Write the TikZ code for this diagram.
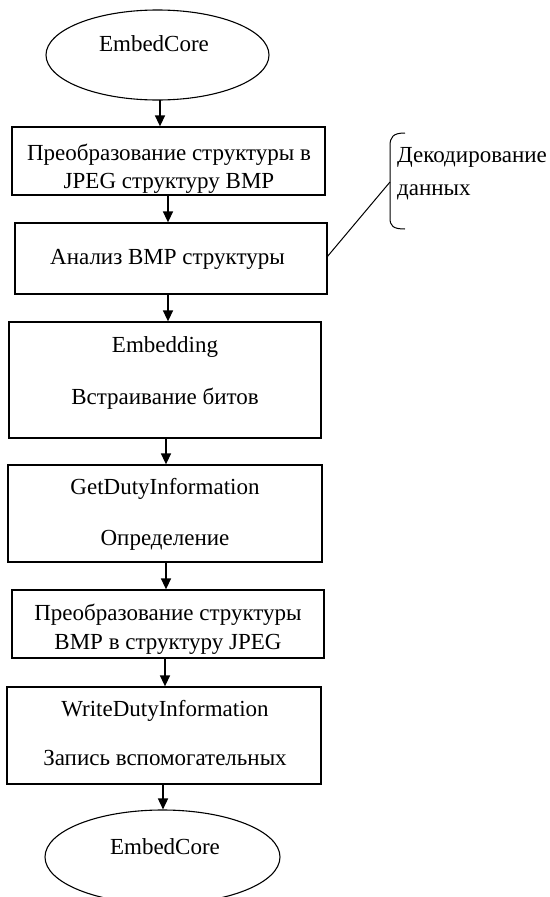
\documentclass[tikz,border=0pt]{standalone}
\usepackage{fontspec}
\setmainfont{Liberation Serif}
\usetikzlibrary{arrows.meta,shapes.geometric}
\begin{document}
\begin{tikzpicture}[x=1pt,y=-1pt,
  box/.style={draw,line width=1.3pt,rectangle,inner sep=0pt},
  oval/.style={draw,line width=1.1pt,ellipse,inner sep=0pt},
  txt/.style={anchor=base,inner sep=0pt,font=\fontsize{23}{27}\selectfont},
  arr/.style={line width=1.5pt,-{Triangle[length=11pt,width=10pt]}}]
\useasboundingbox (0,0) rectangle (549,897);
% shapes
\node[oval,minimum width=223pt,minimum height=90pt] (e1) at (157.5,55) {};
\node[box,minimum width=313pt,minimum height=68pt] (b1) at (168.5,161) {};
\node[box,minimum width=312pt,minimum height=71pt] (b2) at (171,258.5) {};
\node[box,minimum width=312pt,minimum height=116pt] (b3) at (165,380) {};
\node[box,minimum width=314pt,minimum height=97pt] (b4) at (165,513.5) {};
\node[box,minimum width=312pt,minimum height=68pt] (b5) at (168,624) {};
\node[box,minimum width=314pt,minimum height=97pt] (b6) at (164,735.5) {};
\node[oval,minimum width=235pt,minimum height=94pt] (e2) at (162.5,857) {};
% texts
\node[txt] (t0) at (154,51) {EmbedCore};
\node[txt] (t1a) at (169,160) {Преобразование структуры в};
\node[txt] (t1b) at (169,188) {JPEG структуру BMP};
\node[txt] (t2) at (167.5,264) {Анализ BMP структуры};
\node[txt] (t3a) at (165,352) {Embedding};
\node[txt] (t3b) at (165,404) {Встраивание битов};
\node[txt] (t4a) at (165,494) {GetDutyInformation};
\node[txt] (t4b) at (165,545) {Определение};
\node[txt] (t5a) at (168,620) {Преобразование структуры};
\node[txt] (t5b) at (168,649) {BMP в структуру JPEG};
\node[txt] (t6a) at (165,716) {WriteDutyInformation};
\node[txt] (t6b) at (165,765) {Запись вспомогательных};
\node[txt] (t7) at (165,854) {EmbedCore};
\node[txt,anchor=base west] (d1) at (397,162) {Декодирование};
\node[txt,anchor=base west] (d2) at (397,195) {данных};
% arrows
\coordinate (a0) at (160,100);
\draw[arr] (a0) -- (a0 |- b1.north);
\coordinate (a1) at (168,195);
\draw[arr] (a1) -- (a1 |- b2.north);
\coordinate (a2) at (168,294);
\draw[arr] (a2) -- (a2 |- b3.north);
\coordinate (a3) at (166,438);
\draw[arr] (a3) -- (a3 |- b4.north);
\coordinate (a4) at (166,562);
\draw[arr] (a4) -- (a4 |- b5.north);
\coordinate (a5) at (165,658);
\draw[arr] (a5) -- (a5 |- b6.north);
\coordinate (a6) at (163,784);
\draw[arr] (a6) -- (a6 |- e2.north);
% brace and leader
\coordinate (bt) at (405,133);
\coordinate (bm) at (390,182);
\coordinate (bb) at (405,229);
\draw[line width=1pt] (bt) .. controls (393,133) and (390,137) .. (390,146) -- (390,218) .. controls (390,226) and (393,229) .. (bb);
\coordinate (lp) at (327,257);
\draw[line width=1pt] (lp) -- (bm);
\end{tikzpicture}
\end{document}
